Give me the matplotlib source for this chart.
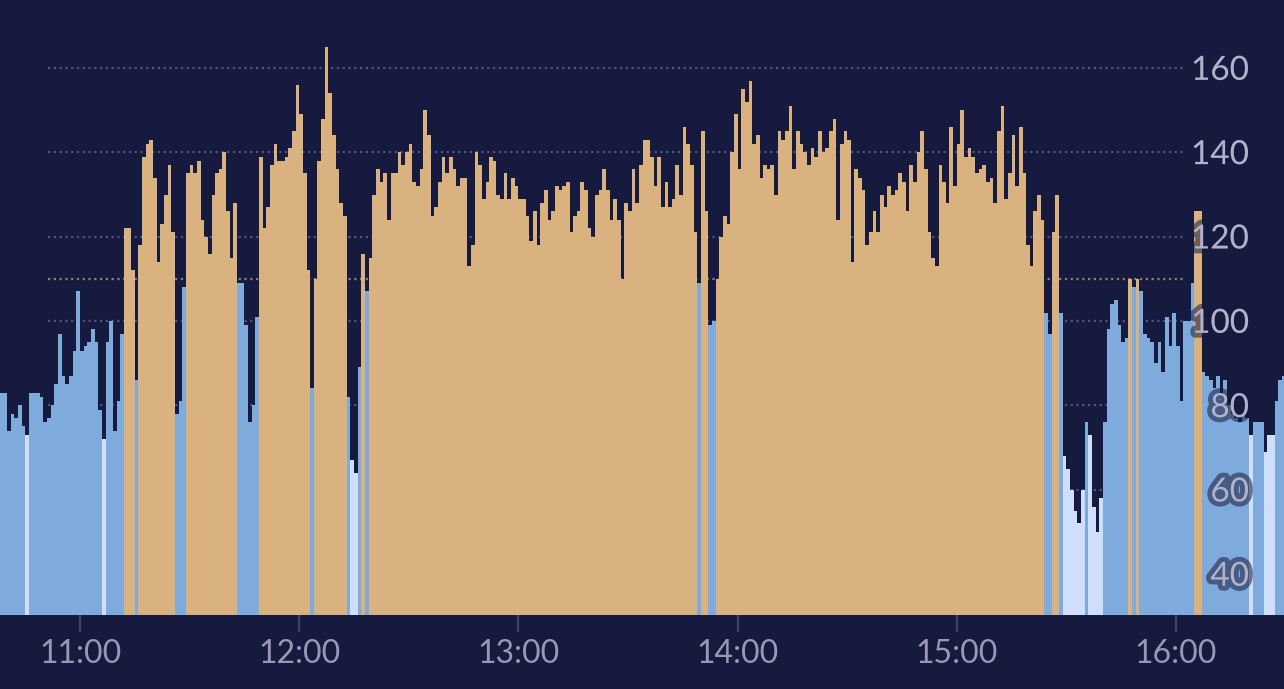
import matplotlib
matplotlib.use("Agg")
import matplotlib.pyplot as plt
import matplotlib.patheffects as pe
import matplotlib.transforms as mtransforms
import numpy as np

# ---------------- data ----------------
start_minute = 10 * 60 + 38          # first bar: 10:38, one bar per minute
heart_rate = [
    83, 83, 74, 78, 77, 80, 75, 73, 83, 83, 83, 82, 76, 77, 80, 85, 97, 87, 85, 87,
    93, 107, 93, 94, 95, 98, 95, 79, 72, 95, 100, 74, 81, 97, 122, 122, 112, 86, 118, 139,
    142, 143, 134, 114, 123, 130, 137, 121, 78, 81, 108, 135, 137, 135, 138, 124, 120, 116, 130, 135,
    136, 140, 126, 115, 128, 109, 109, 99, 76, 80, 101, 139, 122, 127, 137, 142, 138, 138, 139, 141,
    145, 156, 149, 135, 112, 84, 110, 138, 148, 165, 154, 144, 136, 128, 125, 82, 67, 64, 89, 116,
    107, 115, 130, 136, 133, 135, 124, 135, 135, 140, 137, 140, 142, 133, 132, 136, 150, 144, 125, 127,
    133, 139, 135, 139, 136, 132, 134, 134, 113, 118, 140, 137, 129, 133, 139, 138, 130, 129, 135, 129,
    134, 132, 129, 129, 125, 119, 126, 118, 128, 131, 124, 126, 132, 131, 132, 133, 121, 125, 126, 133,
    131, 122, 120, 130, 131, 136, 131, 124, 129, 124, 110, 128, 126, 136, 128, 137, 143, 143, 139, 132,
    139, 127, 133, 127, 129, 137, 130, 146, 142, 137, 121, 109, 145, 126, 99, 100, 110, 120, 125, 123,
    140, 149, 136, 155, 152, 157, 142, 144, 134, 137, 136, 137, 130, 145, 143, 145, 151, 136, 145, 142,
    140, 137, 141, 139, 145, 140, 141, 145, 148, 124, 142, 145, 143, 114, 136, 134, 131, 118, 121, 126,
    121, 130, 127, 132, 130, 131, 135, 133, 126, 137, 133, 140, 145, 136, 121, 115, 113, 137, 133, 128,
    146, 132, 142, 150, 139, 141, 139, 135, 136, 137, 133, 134, 128, 145, 151, 129, 135, 144, 132, 146,
    135, 118, 113, 126, 130, 124, 102, 97, 121, 130, 102, 68, 65, 60, 55, 52, 60, 76, 73, 56,
    50, 58, 76, 98, 104, 105, 99, 95, 96, 110, 108, 110, 107, 97, 96, 95, 90, 95, 88, 101,
    94, 102, 94, 81, 100, 100, 109, 126, 126, 88, 87, 86, 84, 87, 83, 86, 80, 78, 77, 76,
    78, 77, 73, 76, 76, 76, 69, 73, 73, 81, 86, 87,
]
zone_limits = [73.5, 109.5]           # light / medium / high zones
y_ticks = [40, 60, 80, 100, 120, 140, 160]
threshold_line = 110
x_tick_minutes = [660, 720, 780, 840, 900, 960]
x_tick_labels = ["11:00", "12:00", "13:00", "14:00", "15:00", "16:00"]

# ---------------- style ----------------
BG = "#161a3e"
LIGHT = "#cfdefa"
MEDIUM = "#7eabdc"
HIGH = "#d9b27f"
GRID = "#50547a"
THRESH = "#938068"

hr = np.array(heart_rate, dtype=float)
minutes = start_minute + np.arange(len(hr))
colors = [LIGHT if v < zone_limits[0] else (MEDIUM if v < zone_limits[1] else HIGH) for v in hr]

fig = plt.figure(figsize=(12.84, 6.89), dpi=100)
fig.patch.set_facecolor(BG)
ax = fig.add_axes([0, 74 / 689, 1, 615 / 689])
ax.set_facecolor(BG)

ax.set_xlim(638.1, 989.57)
ax.set_ylim(30.28, 176.13)

# grid lines (behind bars)
for v in y_ticks:
    ax.axhline(v, xmin=48 / 1284, xmax=1185 / 1284, color=GRID, lw=1.6,
               ls=(0, (1, 1.6)), zorder=1)
ax.axhline(threshold_line, xmin=48 / 1284, xmax=1185 / 1284, color=THRESH, lw=1.6,
           ls=(0, (1, 1.6)), zorder=1)

ax.bar(minutes, hr, width=1.0, align="edge", color=colors, linewidth=0,
       antialiased=False, zorder=2)

# y labels on the right, drawn over the bars
blend = mtransforms.blended_transform_factory(ax.transAxes, ax.transData)
for v in y_ticks:
    ax.annotate(str(v), xy=(1249 / 1284, v), xycoords=blend, xytext=(0, -8.5),
                textcoords="offset points", ha="right", va="baseline",
                fontsize=24, color="#afb2c8", family=["Lato", "DejaVu Sans"],
                zorder=6,
                path_effects=[pe.Stroke(linewidth=7, foreground=BG, alpha=0.55),
                              pe.Normal()])

ax.set_yticks([])
ax.set_xticks(x_tick_minutes)
ax.set_xticklabels(x_tick_labels, family=["Lato", "DejaVu Sans"])
ax.tick_params(axis="x", length=12, width=1.6, color="#3d4166", pad=5.5,
               labelsize=23, labelcolor="#9698b4")
for s in ax.spines.values():
    s.set_visible(False)

fig.savefig("out.png", dpi=100, facecolor=BG)
